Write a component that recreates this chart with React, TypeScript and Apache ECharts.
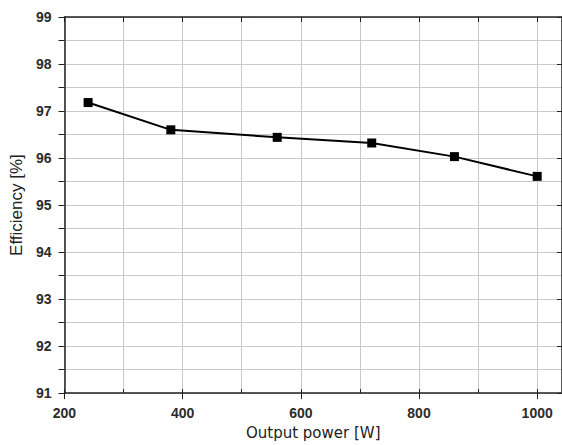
import React, { useEffect, useRef } from "react";
import * as echarts from "echarts";

const powerW = [240, 380, 560, 720, 860, 1000];
const efficiencyPct = [97.18, 96.6, 96.44, 96.32, 96.03, 95.61];
const xTitle = "Output power [W]";
const yTitle = "Efficiency [%]";

const X_MIN = 200;
const X_MAX = 1042;
const Y_MIN = 91;
const Y_MAX = 99;

export default function App() {
  const ref = useRef<HTMLDivElement>(null);
  useEffect(() => {
    if (!ref.current) return;
    const chart = echarts.init(ref.current, null, { renderer: "svg" });
    const labelStyle = {
      color: "#2b2b2b",
      fontFamily: "Liberation Sans, Arial, sans-serif",
      fontWeight: "bold" as const,
      fontSize: 14,
    };
    const gridLine = { show: true, lineStyle: { color: "#c9c9c9", width: 1 } };
    const axisLine = { show: true, onZero: false, lineStyle: { color: "#222", width: 1.5 } };
    chart.setOption({
      animation: false,
      backgroundColor: "#ffffff",
      grid: { left: 63, right: 0, top: 17, bottom: 43, containLabel: false },
      xAxis: [
        {
          type: "value",
          position: "bottom",
          min: X_MIN,
          max: X_MAX,
          interval: 200,
          axisLine,
          axisTick: { show: true, inside: false, length: 6, lineStyle: { color: "#222" } },
          splitLine: { show: false },
          axisLabel: {
            ...labelStyle,
            margin: 13,
            showMaxLabel: false,
            formatter: (v: number) => (v % 200 === 0 ? String(v) : ""),
          },
          name: xTitle,
          nameLocation: "middle",
          nameGap: 28,
          nameTextStyle: {
            color: "#222",
            fontFamily: "DejaVu Sans, sans-serif",
            fontSize: 15,
          },
        },
        {
          type: "value",
          position: "bottom",
          min: X_MIN,
          max: X_MAX,
          interval: 100,
          axisLine: { show: false },
          axisTick: { show: true, inside: true, length: 4, lineStyle: { color: "#222" } },
          splitLine: gridLine,
          axisLabel: { show: false },
        },
        {
          type: "value",
          position: "top",
          min: X_MIN,
          max: X_MAX,
          interval: 100,
          axisLine,
          axisTick: { show: true, inside: true, length: 5, lineStyle: { color: "#222" } },
          splitLine: { show: false },
          axisLabel: { show: false },
        },
      ],
      yAxis: [
        {
          type: "value",
          position: "left",
          min: Y_MIN,
          max: Y_MAX,
          interval: 0.5,
          axisLine,
          axisTick: { show: true, inside: false, length: 6, lineStyle: { color: "#222" } },
          splitLine: gridLine,
          axisLabel: {
            ...labelStyle,
            margin: 13,
            formatter: (v: number) => (Number.isInteger(v) ? String(v) : ""),
          },
          name: yTitle,
          nameLocation: "middle",
          nameGap: 39,
          nameRotate: 90,
          nameTextStyle: {
            color: "#222",
            fontFamily: "Liberation Sans, Arial, sans-serif",
            fontSize: 17,
          },
        },
        {
          type: "value",
          position: "right",
          min: Y_MIN,
          max: Y_MAX,
          interval: 1,
          axisLine,
          axisTick: { show: true, inside: true, length: 5, lineStyle: { color: "#222" } },
          splitLine: { show: false },
          axisLabel: { show: false },
        },
      ],
      series: [
        {
          type: "line",
          xAxisIndex: 0,
          yAxisIndex: 0,
          data: powerW.map((x, i) => [x, efficiencyPct[i]]),
          symbol: "rect",
          symbolSize: 9,
          itemStyle: { color: "#000" },
          lineStyle: { color: "#000", width: 2 },
        },
      ],
    });
    return () => chart.dispose();
  }, []);
  return (
    <div
      ref={ref}
      style={{ position: "fixed", left: 0, top: 0, width: 562, height: 445, background: "#fff" }}
    />
  );
}
